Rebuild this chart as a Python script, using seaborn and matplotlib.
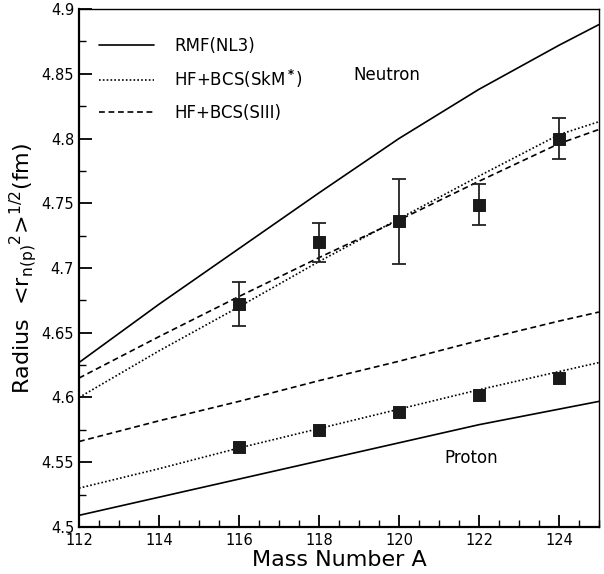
import numpy as np
import pandas as pd
import matplotlib
matplotlib.use("Agg")
import matplotlib.pyplot as plt
import seaborn as sns
from matplotlib.ticker import MultipleLocator

# ---- data ----
A_grid = [112, 114, 116, 118, 120, 122, 124, 125]
n_rmf = [4.627, 4.672, 4.715, 4.758, 4.800, 4.838, 4.872, 4.888]
n_skm = [4.600, 4.636, 4.670, 4.705, 4.738, 4.771, 4.803, 4.813]
n_siii = [4.615, 4.647, 4.678, 4.708, 4.737, 4.767, 4.796, 4.807]
p_rmf = [4.509, 4.523, 4.537, 4.551, 4.565, 4.579, 4.591, 4.597]
p_skm = [4.530, 4.545, 4.561, 4.576, 4.591, 4.606, 4.620, 4.627]
p_siii = [4.566, 4.582, 4.597, 4.613, 4.628, 4.644, 4.659, 4.666]

A_exp = [116, 118, 120, 122, 124]
n_exp = [4.672, 4.720, 4.736, 4.749, 4.800]
n_err = [0.017, 0.015, 0.033, 0.016, 0.016]
p_exp = [4.562, 4.575, 4.589, 4.602, 4.615]

labels = ["RMF(NL3)", r"HF+BCS(SkM$^{\bf *}$)", "HF+BCS(SIII)"]
yticks = [4.5, 4.55, 4.6, 4.65, 4.7, 4.75, 4.8, 4.85, 4.9]
ytick_labels = ["4.5", "4.55", "4.6", "4.65", "4.7", "4.75", "4.8", "4.85", "4.9"]

sns.set_theme(style="white")
plt.rcParams['font.family'] = ['DejaVu Sans']
plt.rcParams['text.color'] = 'black'
plt.rcParams['axes.labelcolor'] = 'black'
plt.rcParams['xtick.color'] = 'black'
plt.rcParams['ytick.color'] = 'black'

fig = plt.figure(figsize=(6.04, 5.74), dpi=100)
ax = fig.add_axes([0.1308, 0.0819, 0.8609, 0.9024])

styles = ["-", (0, (1, 1.3)), (0, (3.5, 2.2))]
series_n = [n_rmf, n_skm, n_siii]
series_p = [p_rmf, p_skm, p_siii]
for lab, st, yn, yp in zip(labels, styles, series_n, series_p):
    df = pd.DataFrame({"A": A_grid, "n": yn, "p": yp})
    sns.lineplot(data=df, x="A", y="n", ax=ax, color="black", lw=1.2,
                 linestyle=st, label=lab)
    sns.lineplot(data=df, x="A", y="p", ax=ax, color="black", lw=1.2,
                 linestyle=st, label="_nolegend_")

ax.errorbar(A_exp, n_exp, yerr=n_err, fmt="none", ecolor="#222222",
            elinewidth=1.3, capsize=5, capthick=1.3)
exp = pd.DataFrame({"A": A_exp + A_exp, "r": n_exp + p_exp})
sns.scatterplot(data=exp, x="A", y="r", ax=ax, marker="s", s=75,
                color="#1a1a1a", edgecolor="#1a1a1a", zorder=5, legend=False)

ax.text(119.7, 4.849, "Neutron", fontsize=12, ha="center", va="center")
ax.text(121.8, 4.553, "Proton", fontsize=12, ha="center", va="center")

ax.set_xlim(112, 125)
ax.set_ylim(4.5, 4.9)
ax.xaxis.set_major_locator(MultipleLocator(2))
ax.xaxis.set_minor_locator(MultipleLocator(0.5))
ax.yaxis.set_minor_locator(MultipleLocator(0.025))
ax.set_yticks(yticks)
ax.set_yticklabels(ytick_labels)
ax.tick_params(axis="both", which="major", direction="in", length=9, width=1.3,
               labelsize=10.5, left=True, bottom=True, top=False, right=False)
ax.tick_params(axis="both", which="minor", direction="in", length=5, width=1.0,
               left=True, bottom=True, top=False, right=False)
ax.tick_params(axis="x", pad=4)
for s in ax.spines.values():
    s.set_color("black")
ax.spines["left"].set_linewidth(1.6)
ax.spines["bottom"].set_linewidth(1.6)
ax.spines["top"].set_linewidth(1.0)
ax.spines["right"].set_linewidth(1.0)

ax.set_xlabel("Mass Number A", fontsize=16, labelpad=2)
ax.set_ylabel(r"Radius  <r$_{\rm n(p)}$$^{2}$>$^{1/2}$(fm)", fontsize=16, labelpad=2)

leg = ax.legend(loc="upper left", frameon=False, fontsize=12, handlelength=3.3,
                labelspacing=0.8, bbox_to_anchor=(0.0, 0.985), borderaxespad=0.8,
                handletextpad=1.2)
for h in leg.get_lines():
    h.set_color("black")
    h.set_linewidth(1.2)

fig.savefig("out.png", dpi=100)
